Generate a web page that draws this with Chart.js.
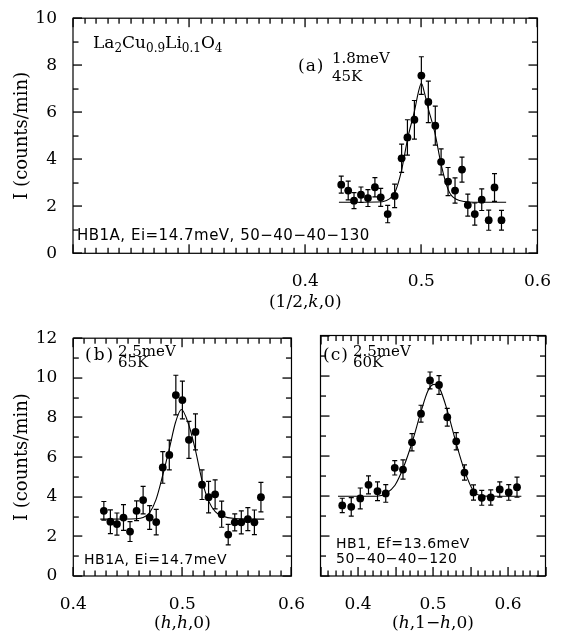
<!DOCTYPE html>
<html>
<head>
<meta charset="utf-8">
<script src="https://cdn.jsdelivr.net/npm/chart.js@4.4.0/dist/chart.umd.min.js"></script>
<style>
  html, body { margin: 0; padding: 0; background: #fff; }
  body { width: 561px; height: 635px; position: relative; overflow: hidden; }
  canvas { position: absolute; }
</style>
</head>
<body>
<canvas id="chartA" width="561" height="315" style="left:0;top:0"></canvas>
<canvas id="chartB" width="315" height="315" style="left:0;top:320px"></canvas>
<canvas id="chartC" width="246" height="315" style="left:315px;top:320px"></canvas>
<script>
// (a) scan along (1/2,k,0), 1.8meV, 45K
const xA = [0.431, 0.437, 0.442, 0.448, 0.454, 0.460, 0.465, 0.471, 0.477, 0.483, 0.488, 0.494, 0.500,
            0.506, 0.512, 0.517, 0.523, 0.529, 0.535, 0.540, 0.546, 0.552, 0.558, 0.563, 0.569];
const yA = [2.92, 2.67, 2.24, 2.49, 2.35, 2.81, 2.38, 1.67, 2.44, 4.04, 4.93, 5.68, 7.56,
            6.44, 5.43, 3.89, 3.05, 2.67, 3.56, 2.05, 1.67, 2.28, 1.41, 2.80, 1.41];
const errA = [0.36, 0.40, 0.34, 0.33, 0.36, 0.41, 0.38, 0.37, 0.50, 0.60, 0.75, 0.82, 0.80,
              0.88, 0.83, 0.55, 0.60, 0.54, 0.53, 0.47, 0.47, 0.46, 0.43, 0.59, 0.42];
const fitXA = [0.429, 0.462, 0.470, 0.4745, 0.4775, 0.4826, 0.4885, 0.4943, 0.4972, 0.500,
               0.5028, 0.5057, 0.5115, 0.5174, 0.5230, 0.5260, 0.5300, 0.537, 0.545, 0.573];
const fitYA = [2.17, 2.18, 2.25, 2.40, 2.62, 3.45, 4.95, 6.10, 6.80, 7.23,
               6.80, 6.20, 5.15, 3.70, 2.72, 2.45, 2.30, 2.20, 2.17, 2.17];

// (b) scan along (h,h,0), 2.5meV, 65K
const xB = [0.428, 0.434, 0.440, 0.446, 0.452, 0.458, 0.464, 0.470, 0.476, 0.482, 0.488, 0.494, 0.500,
            0.506, 0.512, 0.518, 0.524, 0.530, 0.536, 0.542, 0.548, 0.554, 0.560, 0.566, 0.572];
const yB = [3.29, 2.74, 2.62, 2.95, 2.24, 3.29, 3.83, 2.95, 2.72, 5.48, 6.11, 9.13, 8.88,
            6.87, 7.27, 4.61, 3.98, 4.12, 3.12, 2.09, 2.71, 2.71, 2.87, 2.71, 3.98];
const errB = [0.47, 0.60, 0.56, 0.65, 0.50, 0.50, 0.69, 0.60, 0.64, 0.80, 0.75, 1.00, 0.95,
              0.93, 0.91, 0.75, 0.79, 0.73, 0.66, 0.52, 0.43, 0.58, 0.58, 0.62, 0.74];
const fitXB = [0.4247, 0.458, 0.464, 0.470, 0.4759, 0.4821, 0.4881, 0.4938, 0.4991,
               0.506, 0.5119, 0.5182, 0.5241, 0.5301, 0.536, 0.548, 0.575];
const fitYB = [2.87, 2.89, 2.95, 3.20, 3.87, 5.11, 6.44, 7.77, 8.40,
               7.60, 6.36, 4.78, 3.78, 3.25, 3.04, 2.90, 2.87];

// (c) scan along (h,1-h,0), 2.5meV, 60K
const xC = [0.379, 0.391, 0.403, 0.414, 0.426, 0.437, 0.449, 0.460, 0.472, 0.484, 0.496,
            0.508, 0.519, 0.531, 0.542, 0.554, 0.565, 0.577, 0.589, 0.601, 0.612];
const yC = [3.52, 3.45, 3.87, 4.55, 4.23, 4.12, 5.40, 5.31, 6.67, 8.10, 9.76,
            9.53, 7.92, 6.72, 5.16, 4.17, 3.90, 3.92, 4.32, 4.17, 4.43];
const errC = [0.36, 0.46, 0.52, 0.45, 0.47, 0.44, 0.36, 0.48, 0.43, 0.42, 0.42,
              0.47, 0.44, 0.43, 0.38, 0.38, 0.37, 0.38, 0.38, 0.39, 0.50];
const fitXC = [0.3733, 0.4244, 0.4373, 0.4493, 0.4609, 0.4724, 0.484, 0.4933, 0.5009,
               0.5089, 0.5187, 0.5302, 0.5418, 0.5533, 0.5649, 0.58, 0.6178];
const fitYC = [3.98, 3.98, 4.12, 4.53, 5.45, 6.70, 8.20, 9.24, 9.56,
               9.35, 8.30, 6.72, 5.28, 4.28, 4.00, 3.98, 3.98];

// tick labels
const xTicksA = [0.4, 0.5, 0.6];
const yTicksA = [0, 2, 4, 6, 8, 10];
const xTicksB = [0.4, 0.5, 0.6];
const xTicksC = [0.4, 0.5, 0.6];
const yTicksLow = [0, 2, 4, 6, 8, 10, 12];

const SERIF = 'DejaVu Serif';
const SANS = 'DejaVu Sans';
const fMain = '17px ' + SERIF;
const fSub = '12px ' + SERIF;
const fTag = '17px ' + SERIF;
const fSmall = '15px ' + SERIF;
const fSans = '14px ' + SANS;

function drawRuns(ctx, runs, x, y) {
  runs.forEach(r => {
    ctx.font = r[1];
    ctx.letterSpacing = r[3] || '0px';
    ctx.fillText(r[0], x, y + (r[2] || 0));
    x += ctx.measureText(r[0]).width;
  });
}

function runsWidth(ctx, runs) {
  let w = 0;
  runs.forEach(r => {
    ctx.font = r[1];
    ctx.letterSpacing = r[3] || '0px';
    w += ctx.measureText(r[0]).width;
  });
  return w;
}

// frame, inward ticks, error bars and text for one panel
function panelPlugin(cfg) {
  return {
    id: 'panel' + cfg.name,
    afterDatasetsDraw(chart) {
      const ctx = chart.ctx;
      const ys = chart.scales.y;
      const ds = chart.data.datasets[0];
      const meta = chart.getDatasetMeta(0);
      ctx.save();
      ctx.strokeStyle = '#000';
      ctx.lineWidth = 1.2;
      ds.data.forEach((p, i) => {
        const px = meta.data[i].x;
        const t = ys.getPixelForValue(p.y + ds.errors[i]);
        const b = ys.getPixelForValue(p.y - ds.errors[i]);
        ctx.beginPath();
        ctx.moveTo(px, t); ctx.lineTo(px, b);
        ctx.moveTo(px - 2.5, t); ctx.lineTo(px + 2.5, t);
        ctx.moveTo(px - 2.5, b); ctx.lineTo(px + 2.5, b);
        ctx.stroke();
      });
      ctx.restore();
    },
    afterDraw(chart) {
      const ctx = chart.ctx;
      const a = chart.chartArea;
      const xs = chart.scales.x, ys = chart.scales.y;
      ctx.save();
      ctx.fillStyle = '#000';
      ctx.strokeStyle = '#000';
      ctx.lineWidth = 1.2;
      ctx.strokeRect(a.left, a.top, a.right - a.left, a.bottom - a.top);

      // inward ticks: 0.01 steps along x, 1 count steps along y
      const k0 = Math.round(cfg.xMin * 100), k1 = Math.round(cfg.xMax * 100);
      for (let k = k0; k <= k1; k++) {
        const px = Math.round(xs.getPixelForValue(k / 100));
        const len = (k % cfg.xMajorEvery === 0) ? 9 : 5.5;
        ctx.fillRect(px - 0.6, a.bottom - len, 1.3, len);
        ctx.fillRect(px - 0.6, a.top, 1.3, len);
      }
      for (let v = cfg.yMin; v <= cfg.yMax; v++) {
        const py = Math.round(ys.getPixelForValue(v));
        const len = (v % 2 === 0) ? 9 : 5.5;
        ctx.fillRect(a.left, py - 0.6, len, 1.3);
        ctx.fillRect(a.right - len, py - 0.6, len, 1.3);
      }

      ctx.textBaseline = 'alphabetic';
      ctx.textAlign = 'left';
      cfg.notes.forEach(n => drawRuns(ctx, n.runs, n.x, n.y));

      const w = runsWidth(ctx, cfg.xTitle);
      drawRuns(ctx, cfg.xTitle, (a.left + a.right) / 2 - w / 2, cfg.xTitleY);
      ctx.restore();
    }
  };
}

function buildChart(id, cfg) {
  return new Chart(document.getElementById(id), {
    type: 'scatter',
    data: {
      datasets: [
        {
          data: cfg.x.map((v, i) => ({ x: v, y: cfg.y[i] })),
          errors: cfg.err,
          pointRadius: 3.9,
          pointBorderWidth: 0,
          backgroundColor: '#000',
          borderColor: '#000'
        },
        {
          type: 'line',
          data: cfg.fitX.map((v, i) => ({ x: v, y: cfg.fitY[i] })),
          borderColor: '#000',
          borderWidth: 1.1,
          pointRadius: 0,
          fill: false,
          cubicInterpolationMode: 'monotone'
        }
      ]
    },
    options: {
      responsive: false,
      animation: false,
      devicePixelRatio: 1,
      layout: { padding: cfg.padding },
      plugins: { legend: { display: false }, tooltip: { enabled: false } },
      scales: {
        x: {
          type: 'linear', min: cfg.xMin, max: cfg.xMax,
          grid: { display: false }, border: { display: false },
          afterBuildTicks: s => { s.ticks = cfg.xTicks.map(v => ({ value: v })); },
          afterFit: s => { s.height = cfg.xAxisH; },
          ticks: {
            color: '#000', font: { family: SERIF, size: 17 }, padding: 10,
            maxRotation: 0, autoSkip: false,
            callback: v => v.toFixed(1)
          }
        },
        y: {
          type: 'linear', min: cfg.yMin, max: cfg.yMax,
          grid: { display: false }, border: { display: false },
          afterBuildTicks: s => { s.ticks = cfg.yTicks.map(v => ({ value: v })); },
          afterFit: s => { s.width = cfg.yAxisW; },
          ticks: {
            display: cfg.yLabels, color: '#000', font: { family: SERIF, size: 17 },
            padding: 8, autoSkip: false
          },
          title: {
            display: cfg.yLabels, text: 'I (counts/min)', color: '#000',
            font: { family: SERIF, size: 18 }, padding: { top: 12, bottom: 0 }
          }
        }
      }
    },
    plugins: [panelPlugin(cfg)]
  });
}

buildChart('chartA', {
  name: 'A',
  x: xA, y: yA, err: errA, fitX: fitXA, fitY: fitYA,
  xMin: 0.2, xMax: 0.6, yMin: 0, yMax: 10,
  xTicks: xTicksA, yTicks: yTicksA, yLabels: true,
  padding: { top: 12.7, right: 17, bottom: 0, left: 0 },
  yAxisW: 73, xAxisH: 61.7, xMajorEvery: 10,
  xTitle: [['(1/2,', fMain], ['k', 'italic ' + fMain], [',0)', fMain]], xTitleY: 307,
  notes: [
    { x: 93, y: 48, runs: [['La', fMain], ['2', fSub, 4], ['Cu', fMain], ['0.9', fSub, 4],
                           ['Li', fMain], ['0.1', fSub, 4], ['O', fMain], ['4', fSub, 4]] },
    { x: 298, y: 71, runs: [['(a)', fTag, 0, '1px']] },
    { x: 332, y: 63, runs: [['1.8meV', fSmall]] },
    { x: 332, y: 80.5, runs: [['45K', fSmall]] },
    { x: 77, y: 239.5, runs: [['HB1A, Ei=14.7meV, 50\u221240\u221240\u2212130', '15px ' + SANS, 0, '0.5px']] }
  ]
});

buildChart('chartB', {
  name: 'B',
  x: xB, y: yB, err: errB, fitX: fitXB, fitY: fitYB,
  xMin: 0.4, xMax: 0.6, yMin: 0, yMax: 12,
  xTicks: xTicksB, yTicks: yTicksLow, yLabels: true,
  padding: { top: 15.5, right: 17.7, bottom: 0, left: 0 },
  yAxisW: 73.3, xAxisH: 59, xMajorEvery: 10,
  xTitle: [['(', fMain], ['h', 'italic ' + fMain], [',', fMain], ['h', 'italic ' + fMain], [',0)', fMain]],
  xTitleY: 308,
  notes: [
    { x: 85, y: 39.5, runs: [['(b)', fTag, 0, '2px']] },
    { x: 118, y: 36, runs: [['2.5meV', fSmall]] },
    { x: 118, y: 46.5, runs: [['65K', fSmall]] },
    { x: 84, y: 244, runs: [['HB1A, Ei=14.7meV', fSans, 0, '0.5px']] }
  ]
});

buildChart('chartC', {
  name: 'C',
  x: xC, y: yC, err: errC, fitX: fitXC, fitY: fitYC,
  xMin: 0.35, xMax: 0.65, yMin: 0, yMax: 12,
  xTicks: xTicksC, yTicks: yTicksLow, yLabels: false,
  padding: { top: 15.5, right: 15.5, bottom: 0, left: 0 },
  yAxisW: 5.5, xAxisH: 59, xMajorEvery: 5,
  xTitle: [['(', fMain], ['h', 'italic ' + fMain], [',1\u2212', fMain], ['h', 'italic ' + fMain], [',0)', fMain]],
  xTitleY: 308,
  notes: [
    { x: 8, y: 39.5, runs: [['(c)', fTag, 0, '1px']] },
    { x: 38, y: 36, runs: [['2.5meV', fSmall]] },
    { x: 38, y: 46.5, runs: [['60K', fSmall]] },
    { x: 21, y: 228.3, runs: [['HB1, Ef=13.6meV', fSans, 0, '0.5px']] },
    { x: 21, y: 243, runs: [['50\u221240\u221240\u2212120', fSans, 0, '0.5px']] }
  ]
});
</script>
</body>
</html>
